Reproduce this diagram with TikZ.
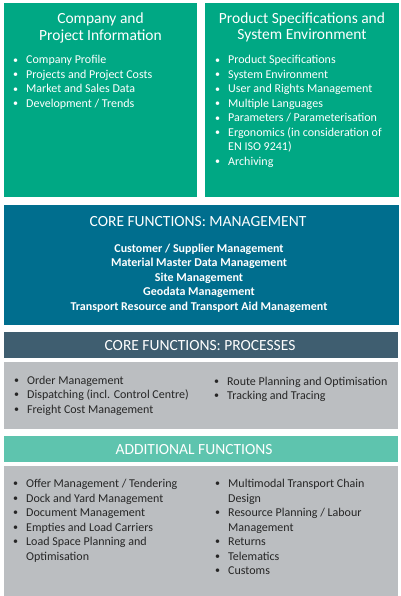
\documentclass[tikz,border=0pt]{standalone}
\usepackage{fontspec}
\setmainfont{Carlito}
\definecolor{cgreen}{RGB}{0,168,132}
\definecolor{cblue}{RGB}{0,110,142}
\definecolor{cslate}{RGB}{63,94,112}
\definecolor{cmint}{RGB}{94,196,174}
\definecolor{cgray}{RGB}{187,190,193}
\definecolor{cdark}{RGB}{38,38,38}
\newcommand\bitem[5]{%
  \node[bul,text=#4] (#1-b) at (#2-13,#3+3.3) {•};
  \node[itm,text=#4] (#1) at (#2,#3+4) {#5};}
\begin{document}
\begin{tikzpicture}[x=1pt,y=-1pt,
  box/.style={anchor=north west,inner sep=0pt,outer sep=0pt},
  bul/.style={anchor=base west,inner sep=0pt,font=\fontsize{10}{12}\selectfont},
  itm/.style={anchor=base west,inner sep=0pt,font=\fontsize{12}{14}\selectfont},
  ctr/.style={anchor=base,inner sep=0pt,text=white,font=\bfseries\fontsize{12}{14}\selectfont},
  ttl/.style={anchor=base,inner sep=0pt,text=white,font=\fontsize{15.5}{17}\selectfont}]
\useasboundingbox (0,0) rectangle (400,596);
\fill[white] (0,0) rectangle (400,596);
% boxes
\node[box,fill=cgreen,minimum width=193,minimum height=194] (cpi) at (4,3) {};
\node[box,fill=cgreen,minimum width=194,minimum height=194] (pse) at (205,3) {};
\node[box,fill=cblue,minimum width=395,minimum height=120] (mgmt) at (4,205) {};
\node[box,fill=cslate,minimum width=394,minimum height=26] (proch) at (4,332) {};
\node[box,fill=cgray,minimum width=394,minimum height=67] (procb) at (4,362) {};
\node[box,fill=cmint,minimum width=394,minimum height=26] (addh) at (4,436) {};
\node[box,fill=cgray,minimum width=394,minimum height=130] (addb) at (4,466) {};
% top left
\node[ttl] (t1a) at (100.5,18+5.5) {Company and};
\node[ttl] (t1b) at (100.5,35+5.5) {Project Information};
\bitem{a1}{26}{60}{white}{Company Profile}
\bitem{a2}{26}{74.5}{white}{Projects and Project Costs}
\bitem{a3}{26}{89}{white}{Market and Sales Data}
\bitem{a4}{26}{103.5}{white}{Development / Trends}
% top right
\node[ttl] (t2a) at (302,18+5.5) {Product Specifications and};
\node[ttl] (t2b) at (302,34+5.5) {System Environment};
\bitem{b1}{228}{60}{white}{Product Specifications}
\bitem{b2}{228}{74.5}{white}{System Environment}
\bitem{b3}{228}{89}{white}{User and Rights Management}
\bitem{b4}{228}{103.5}{white}{Multiple Languages}
\bitem{b5}{228}{118}{white}{Parameters / Parameterisation}
\bitem{b6}{228}{132.5}{white}{Ergonomics (in consideration of}
\node[itm,text=white] (b6c) at (228,147+4) {EN ISO 9241)};
\bitem{b7}{228}{161.5}{white}{Archiving}
% management
\node[ttl] (mh) at (198,221+5.5) {CORE FUNCTIONS: MANAGEMENT};
\node[ctr] (m1) at (199,248+4) {Customer / Supplier Management};
\node[ctr] (m2) at (199,262.5+4) {Material Master Data Management};
\node[ctr] (m3) at (199,277+4) {Site Management};
\node[ctr] (m4) at (199,291.5+4) {Geodata Management};
\node[ctr] (m5) at (199,306+4) {Transport Resource and Transport Aid Management};
% processes
\node[ttl] (ph) at (200,345+5.5) {CORE FUNCTIONS: PROCESSES};
\bitem{p1}{27}{380}{cdark}{Order Management}
\bitem{p2}{27}{394.5}{cdark}{Dispatching (incl. Control Centre)}
\bitem{p3}{27}{409}{cdark}{Freight Cost Management}
\bitem{p4}{227}{381}{cdark}{Route Planning and Optimisation}
\bitem{p5}{227}{395.5}{cdark}{Tracking and Tracing}
% additional
\node[ttl] (ah) at (194,449+5.5) {ADDITIONAL FUNCTIONS};
\bitem{q1}{26}{483.5}{cdark}{Offer Management / Tendering}
\bitem{q2}{26}{498}{cdark}{Dock and Yard Management}
\bitem{q3}{26}{512.5}{cdark}{Document Management}
\bitem{q4}{26}{527}{cdark}{Empties and Load Carriers}
\bitem{q5}{26}{541.5}{cdark}{Load Space Planning and}
\node[itm,text=cdark] (q5c) at (26,556+4) {Optimisation};
\bitem{r1}{228}{483.5}{cdark}{Multimodal Transport Chain}
\node[itm,text=cdark] (r1c) at (228,498+4) {Design};
\bitem{r2}{228}{512.5}{cdark}{Resource Planning / Labour}
\node[itm,text=cdark] (r2c) at (228,527+4) {Management};
\bitem{r3}{228}{541.5}{cdark}{Returns}
\bitem{r4}{228}{556}{cdark}{Telematics}
\bitem{r5}{228}{570.5}{cdark}{Customs}
\end{tikzpicture}
\end{document}
